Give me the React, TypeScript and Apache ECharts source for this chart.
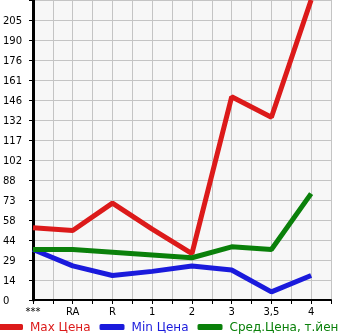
import React, { useEffect, useRef } from "react";
import * as echarts from "echarts";

const categories = ["***", "RA", "R", "1", "2", "3", "3,5", "4"];
const maxPrice = [53, 51, 71, 52, 34, 149, 134, 220];
const minPrice = [37, 25, 18, 21, 25, 22, 6, 18];
const avgPrice = [37, 37, 35, 33, 31, 39, 37, 78];
const yTickLabels = ["0", "14", "29", "44", "58", "73", "88", "102", "117", "132", "146", "161", "176", "190", "205"];
const seriesNames = ["Max Цена", "Min Цена", "Сред.Цена, т.йен"];
const seriesColors = ["#dc1a1a", "#1a1adc", "#0a800a"];

const Y_MAX = 220;
const Y_STEP = Y_MAX / 15;
const FONT = "DejaVu Sans";

export default function App() {
  const ref = useRef<HTMLDivElement>(null);
  useEffect(() => {
    if (!ref.current) return;
    const chart = echarts.init(ref.current, null, { renderer: "svg" });
    const values = [maxPrice, minPrice, avgPrice];
    chart.setOption({
      animation: false,
      grid: {
        left: 31,
        right: 14,
        top: 0,
        bottom: 35,
        show: true,
        backgroundColor: "#f7f7f7",
        borderWidth: 0,
      },
      xAxis: {
        type: "value",
        min: 0,
        max: 7.5,
        interval: 0.5,
        axisLine: { show: true, lineStyle: { color: "#000", width: 2 } },
        axisTick: { show: true, length: 4, lineStyle: { color: "#000", width: 1 } },
        axisLabel: {
          color: "#000",
          fontFamily: FONT,
          fontSize: 10,
          margin: 6,
          formatter: (v: number) => {
            const i = Math.round(v * 2);
            return i % 2 === 0 && categories[i / 2] !== undefined ? categories[i / 2] : "";
          },
        },
        splitLine: { show: true, lineStyle: { color: "#c4c4c4", width: 1 } },
      },
      yAxis: {
        type: "value",
        min: 0,
        max: Y_MAX,
        interval: Y_STEP,
        axisLine: { show: true, lineStyle: { color: "#000", width: 3 } },
        axisTick: { show: true, length: 4, lineStyle: { color: "#000", width: 1 } },
        axisLabel: {
          color: "#000",
          fontFamily: FONT,
          fontSize: 10,
          align: "left",
          margin: 30,
          verticalAlign: "middle",
          padding: [0, 0, 6, 0],
          formatter: (v: number) => {
            const i = Math.round(v / Y_STEP);
            return i < yTickLabels.length ? yTickLabels[i] : "";
          },
        },
        splitLine: { show: true, lineStyle: { color: "#c4c4c4", width: 1 } },
      },
      legend: {
        left: -2,
        top: 321,
        padding: 0,
        icon: "roundRect",
        itemWidth: 25,
        itemHeight: 6,
        itemGap: 9,
        textStyle: { fontFamily: FONT, fontSize: 12, padding: [0, 0, 0, 2] },
        data: seriesNames.map((n, i) => ({ name: n, textStyle: { color: seriesColors[i] } })),
      },
      series: seriesNames.map((n, k) => ({
        name: n,
        type: "line",
        showSymbol: false,
        symbol: "none",
        color: seriesColors[k],
        lineStyle: { width: 5, color: seriesColors[k] },
        data: categories.map((_, i) => [i, values[k][i]]),
      })),
    });
    return () => chart.dispose();
  }, []);
  return (
    <div
      ref={ref}
      style={{ position: "fixed", left: 0, top: 0, width: 345, height: 335 }}
    />
  );
}
